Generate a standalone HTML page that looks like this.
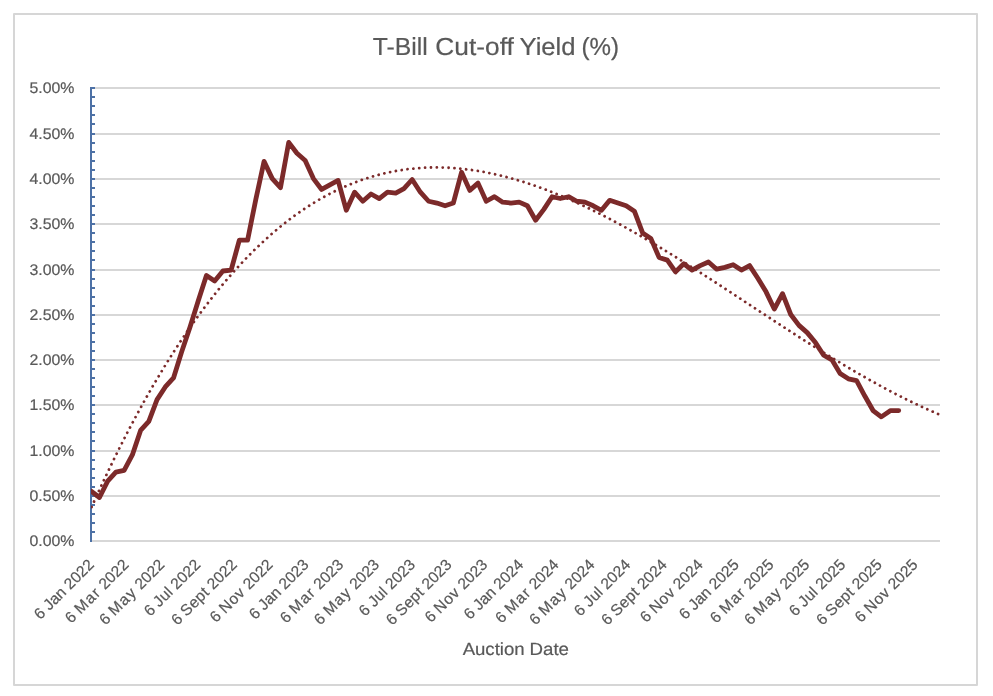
<!DOCTYPE html>
<html lang="en"><head><meta charset="utf-8"><title>T-Bill Cut-off Yield (%)</title>
<style>html,body{margin:0;padding:0;background:#fff;overflow:hidden}svg{display:block;will-change:transform}text{font-family:"Liberation Sans",Arial,sans-serif;fill:#595959;stroke:#595959;stroke-width:0.2px;text-rendering:geometricPrecision}</style></head><body>
<svg width="993" height="696" viewBox="0 0 993 696">
<rect x="0" y="0" width="993" height="696" fill="#ffffff"/>
<rect x="14" y="14" width="963" height="671" fill="#ffffff" stroke="#d6d6d6" stroke-width="2" stroke-linejoin="round"/>
<g stroke="#d7d7d7" stroke-width="2" fill="none">
<line x1="91.00" y1="541.00" x2="940.00" y2="541.00"/>
<line x1="91.00" y1="496.00" x2="940.00" y2="496.00"/>
<line x1="91.00" y1="451.00" x2="940.00" y2="451.00"/>
<line x1="91.00" y1="405.00" x2="940.00" y2="405.00"/>
<line x1="91.00" y1="360.00" x2="940.00" y2="360.00"/>
<line x1="91.00" y1="315.00" x2="940.00" y2="315.00"/>
<line x1="91.00" y1="270.00" x2="940.00" y2="270.00"/>
<line x1="91.00" y1="224.00" x2="940.00" y2="224.00"/>
<line x1="91.00" y1="179.00" x2="940.00" y2="179.00"/>
<line x1="91.00" y1="134.00" x2="940.00" y2="134.00"/>
<line x1="91.00" y1="88.00" x2="940.00" y2="88.00"/>
</g>
<g font-size="15.4" text-anchor="end">
<text x="74.40" y="546.00" textLength="45.00" lengthAdjust="spacingAndGlyphs">0.00%</text>
<text x="74.40" y="501.00" textLength="45.00" lengthAdjust="spacingAndGlyphs">0.50%</text>
<text x="74.40" y="456.00" textLength="45.00" lengthAdjust="spacingAndGlyphs">1.00%</text>
<text x="74.40" y="410.00" textLength="45.00" lengthAdjust="spacingAndGlyphs">1.50%</text>
<text x="74.40" y="365.00" textLength="45.00" lengthAdjust="spacingAndGlyphs">2.00%</text>
<text x="74.40" y="320.00" textLength="45.00" lengthAdjust="spacingAndGlyphs">2.50%</text>
<text x="74.40" y="275.00" textLength="45.00" lengthAdjust="spacingAndGlyphs">3.00%</text>
<text x="74.40" y="229.00" textLength="45.00" lengthAdjust="spacingAndGlyphs">3.50%</text>
<text x="74.40" y="184.00" textLength="45.00" lengthAdjust="spacingAndGlyphs">4.00%</text>
<text x="74.40" y="139.00" textLength="45.00" lengthAdjust="spacingAndGlyphs">4.50%</text>
<text x="74.40" y="93.00" textLength="45.00" lengthAdjust="spacingAndGlyphs">5.00%</text>
</g>
<g stroke="#4d71a6" fill="none">
<line x1="91" y1="87" x2="91" y2="542" stroke-width="2.0"/>
<line x1="91" y1="496" x2="95" y2="496" stroke-width="2"/>
<line x1="91" y1="505" x2="95" y2="505" stroke-width="2"/>
<line x1="91" y1="514" x2="95" y2="514" stroke-width="2"/>
<line x1="91" y1="523" x2="95" y2="523" stroke-width="2"/>
<line x1="91" y1="532" x2="95" y2="532" stroke-width="2"/>
<line x1="91" y1="451" x2="95" y2="451" stroke-width="2"/>
<line x1="91" y1="460" x2="95" y2="460" stroke-width="2"/>
<line x1="91" y1="469" x2="95" y2="469" stroke-width="2"/>
<line x1="91" y1="478" x2="95" y2="478" stroke-width="2"/>
<line x1="91" y1="487" x2="95" y2="487" stroke-width="2"/>
<line x1="91" y1="405" x2="95" y2="405" stroke-width="2"/>
<line x1="91" y1="414" x2="95" y2="414" stroke-width="2"/>
<line x1="91" y1="423" x2="95" y2="423" stroke-width="2"/>
<line x1="91" y1="432" x2="95" y2="432" stroke-width="2"/>
<line x1="91" y1="441" x2="95" y2="441" stroke-width="2"/>
<line x1="91" y1="360" x2="95" y2="360" stroke-width="2"/>
<line x1="91" y1="369" x2="95" y2="369" stroke-width="2"/>
<line x1="91" y1="378" x2="95" y2="378" stroke-width="2"/>
<line x1="91" y1="387" x2="95" y2="387" stroke-width="2"/>
<line x1="91" y1="396" x2="95" y2="396" stroke-width="2"/>
<line x1="91" y1="315" x2="95" y2="315" stroke-width="2"/>
<line x1="91" y1="324" x2="95" y2="324" stroke-width="2"/>
<line x1="91" y1="333" x2="95" y2="333" stroke-width="2"/>
<line x1="91" y1="342" x2="95" y2="342" stroke-width="2"/>
<line x1="91" y1="351" x2="95" y2="351" stroke-width="2"/>
<line x1="91" y1="270" x2="95" y2="270" stroke-width="2"/>
<line x1="91" y1="279" x2="95" y2="279" stroke-width="2"/>
<line x1="91" y1="288" x2="95" y2="288" stroke-width="2"/>
<line x1="91" y1="297" x2="95" y2="297" stroke-width="2"/>
<line x1="91" y1="306" x2="95" y2="306" stroke-width="2"/>
<line x1="91" y1="224" x2="95" y2="224" stroke-width="2"/>
<line x1="91" y1="233" x2="95" y2="233" stroke-width="2"/>
<line x1="91" y1="242" x2="95" y2="242" stroke-width="2"/>
<line x1="91" y1="251" x2="95" y2="251" stroke-width="2"/>
<line x1="91" y1="260" x2="95" y2="260" stroke-width="2"/>
<line x1="91" y1="179" x2="95" y2="179" stroke-width="2"/>
<line x1="91" y1="188" x2="95" y2="188" stroke-width="2"/>
<line x1="91" y1="197" x2="95" y2="197" stroke-width="2"/>
<line x1="91" y1="206" x2="95" y2="206" stroke-width="2"/>
<line x1="91" y1="215" x2="95" y2="215" stroke-width="2"/>
<line x1="91" y1="134" x2="95" y2="134" stroke-width="2"/>
<line x1="91" y1="143" x2="95" y2="143" stroke-width="2"/>
<line x1="91" y1="152" x2="95" y2="152" stroke-width="2"/>
<line x1="91" y1="161" x2="95" y2="161" stroke-width="2"/>
<line x1="91" y1="170" x2="95" y2="170" stroke-width="2"/>
<line x1="91" y1="88" x2="95" y2="88" stroke-width="2"/>
<line x1="91" y1="97" x2="95" y2="97" stroke-width="2"/>
<line x1="91" y1="106" x2="95" y2="106" stroke-width="2"/>
<line x1="91" y1="115" x2="95" y2="115" stroke-width="2"/>
<line x1="91" y1="124" x2="95" y2="124" stroke-width="2"/>
</g>
<clipPath id="plot"><rect x="91" y="60" width="880" height="500"/></clipPath>
<path clip-path="url(#plot)" d="M91.20 507.90 L93.33 503.15 L95.45 498.45 L97.58 493.79 L99.71 489.16 L101.84 484.58 L103.96 480.03 L106.09 475.53 L108.22 471.06 L110.35 466.63 L112.47 462.24 L114.60 457.89 L116.73 453.58 L118.86 449.30 L120.98 445.07 L123.11 440.87 L125.24 436.71 L127.36 432.58 L129.49 428.50 L131.62 424.45 L133.75 420.44 L135.87 416.47 L138.00 412.53 L140.13 408.63 L142.26 404.77 L144.38 400.94 L146.51 397.15 L148.64 393.40 L150.76 389.68 L152.89 386.00 L155.02 382.36 L157.15 378.75 L159.27 375.18 L161.40 371.64 L163.53 368.14 L165.66 364.67 L167.78 361.24 L169.91 357.84 L172.04 354.48 L174.17 351.16 L176.29 347.87 L178.42 344.61 L180.55 341.39 L182.67 338.20 L184.80 335.05 L186.93 331.93 L189.06 328.85 L191.18 325.79 L193.31 322.78 L195.44 319.79 L197.57 316.84 L199.69 313.93 L201.82 311.04 L203.95 308.19 L206.08 305.37 L208.20 302.59 L210.33 299.84 L212.46 297.12 L214.58 294.43 L216.71 291.78 L218.84 289.15 L220.97 286.56 L223.09 284.00 L225.22 281.48 L227.35 278.98 L229.48 276.52 L231.60 274.09 L233.73 271.69 L235.86 269.32 L237.98 266.98 L240.11 264.67 L242.24 262.40 L244.37 260.15 L246.49 257.93 L248.62 255.75 L250.75 253.59 L252.88 251.47 L255.00 249.37 L257.13 247.31 L259.26 245.28 L261.39 243.27 L263.51 241.29 L265.64 239.35 L267.77 237.43 L269.89 235.54 L272.02 233.68 L274.15 231.85 L276.28 230.05 L278.40 228.28 L280.53 226.53 L282.66 224.82 L284.79 223.13 L286.91 221.47 L289.04 219.84 L291.17 218.23 L293.30 216.66 L295.42 215.11 L297.55 213.59 L299.68 212.09 L301.80 210.63 L303.93 209.19 L306.06 207.78 L308.19 206.39 L310.31 205.03 L312.44 203.70 L314.57 202.39 L316.70 201.11 L318.82 199.86 L320.95 198.63 L323.08 197.43 L325.21 196.25 L327.33 195.10 L329.46 193.98 L331.59 192.88 L333.71 191.80 L335.84 190.76 L337.97 189.73 L340.10 188.73 L342.22 187.76 L344.35 186.81 L346.48 185.88 L348.61 184.98 L350.73 184.11 L352.86 183.25 L354.99 182.42 L357.11 181.62 L359.24 180.84 L361.37 180.08 L363.50 179.35 L365.62 178.64 L367.75 177.95 L369.88 177.29 L372.01 176.64 L374.13 176.03 L376.26 175.43 L378.39 174.86 L380.52 174.31 L382.64 173.78 L384.77 173.27 L386.90 172.79 L389.02 172.32 L391.15 171.88 L393.28 171.47 L395.41 171.07 L397.53 170.69 L399.66 170.34 L401.79 170.00 L403.92 169.69 L406.04 169.40 L408.17 169.13 L410.30 168.88 L412.43 168.65 L414.55 168.44 L416.68 168.25 L418.81 168.08 L420.93 167.94 L423.06 167.81 L425.19 167.70 L427.32 167.61 L429.44 167.54 L431.57 167.49 L433.70 167.46 L435.83 167.44 L437.95 167.45 L440.08 167.48 L442.21 167.52 L444.33 167.58 L446.46 167.66 L448.59 167.76 L450.72 167.88 L452.84 168.02 L454.97 168.17 L457.10 168.34 L459.23 168.53 L461.35 168.74 L463.48 168.96 L465.61 169.21 L467.74 169.46 L469.86 169.74 L471.99 170.03 L474.12 170.34 L476.24 170.67 L478.37 171.01 L480.50 171.37 L482.63 171.75 L484.75 172.14 L486.88 172.55 L489.01 172.97 L491.14 173.41 L493.26 173.86 L495.39 174.33 L497.52 174.82 L499.65 175.32 L501.77 175.84 L503.90 176.37 L506.03 176.91 L508.15 177.48 L510.28 178.05 L512.41 178.64 L514.54 179.25 L516.66 179.86 L518.79 180.50 L520.92 181.14 L523.05 181.80 L525.17 182.48 L527.30 183.16 L529.43 183.87 L531.55 184.58 L533.68 185.31 L535.81 186.05 L537.94 186.80 L540.06 187.57 L542.19 188.35 L544.32 189.14 L546.45 189.94 L548.57 190.76 L550.70 191.59 L552.83 192.43 L554.96 193.28 L557.08 194.15 L559.21 195.02 L561.34 195.91 L563.46 196.81 L565.59 197.72 L567.72 198.64 L569.85 199.57 L571.97 200.52 L574.10 201.47 L576.23 202.44 L578.36 203.41 L580.48 204.40 L582.61 205.39 L584.74 206.40 L586.87 207.41 L588.99 208.44 L591.12 209.47 L593.25 210.52 L595.37 211.57 L597.50 212.64 L599.63 213.71 L601.76 214.79 L603.88 215.88 L606.01 216.98 L608.14 218.09 L610.27 219.21 L612.39 220.34 L614.52 221.47 L616.65 222.61 L618.77 223.76 L620.90 224.92 L623.03 226.09 L625.16 227.26 L627.28 228.44 L629.41 229.63 L631.54 230.83 L633.67 232.03 L635.79 233.24 L637.92 234.46 L640.05 235.68 L642.18 236.91 L644.30 238.15 L646.43 239.39 L648.56 240.64 L650.68 241.90 L652.81 243.16 L654.94 244.42 L657.07 245.70 L659.19 246.98 L661.32 248.26 L663.45 249.55 L665.58 250.85 L667.70 252.15 L669.83 253.45 L671.96 254.76 L674.09 256.08 L676.21 257.40 L678.34 258.72 L680.47 260.05 L682.59 261.38 L684.72 262.72 L686.85 264.06 L688.98 265.40 L691.10 266.75 L693.23 268.10 L695.36 269.45 L697.49 270.81 L699.61 272.17 L701.74 273.54 L703.87 274.91 L705.99 276.28 L708.12 277.65 L710.25 279.02 L712.38 280.40 L714.50 281.78 L716.63 283.16 L718.76 284.55 L720.89 285.93 L723.01 287.32 L725.14 288.71 L727.27 290.10 L729.40 291.49 L731.52 292.89 L733.65 294.28 L735.78 295.68 L737.90 297.07 L740.03 298.47 L742.16 299.87 L744.29 301.27 L746.41 302.67 L748.54 304.07 L750.67 305.47 L752.80 306.86 L754.92 308.26 L757.05 309.66 L759.18 311.06 L761.31 312.46 L763.43 313.85 L765.56 315.25 L767.69 316.65 L769.81 318.04 L771.94 319.43 L774.07 320.82 L776.20 322.22 L778.32 323.60 L780.45 324.99 L782.58 326.38 L784.71 327.76 L786.83 329.14 L788.96 330.52 L791.09 331.90 L793.22 333.27 L795.34 334.64 L797.47 336.01 L799.60 337.38 L801.72 338.74 L803.85 340.10 L805.98 341.45 L808.11 342.81 L810.23 344.16 L812.36 345.50 L814.49 346.85 L816.62 348.18 L818.74 349.52 L820.87 350.85 L823.00 352.18 L825.12 353.50 L827.25 354.81 L829.38 356.13 L831.51 357.43 L833.63 358.74 L835.76 360.03 L837.89 361.33 L840.02 362.61 L842.14 363.90 L844.27 365.17 L846.40 366.44 L848.53 367.71 L850.65 368.97 L852.78 370.22 L854.91 371.47 L857.03 372.71 L859.16 373.94 L861.29 375.17 L863.42 376.39 L865.54 377.60 L867.67 378.81 L869.80 380.01 L871.93 381.20 L874.05 382.38 L876.18 383.56 L878.31 384.73 L880.44 385.89 L882.56 387.05 L884.69 388.19 L886.82 389.33 L888.94 390.46 L891.07 391.58 L893.20 392.70 L895.33 393.80 L897.45 394.90 L899.58 395.98 L901.71 397.06 L903.84 398.13 L905.96 399.19 L908.09 400.24 L910.22 401.28 L912.34 402.31 L914.47 403.33 L916.60 404.34 L918.73 405.34 L920.85 406.33 L922.98 407.31 L925.11 408.28 L927.24 409.24 L929.36 410.19 L931.49 411.13 L933.62 412.06 L935.75 412.97 L937.87 413.88 L940.00 414.77" fill="none" stroke="#7c2a2a" stroke-width="2.8" stroke-linecap="round" stroke-dasharray="0.01 5.870" stroke-dashoffset="-1.070"/>
<path clip-path="url(#plot)" d="M91.20 491.17 L99.43 497.51 L107.66 481.20 L115.89 472.14 L124.12 470.33 L132.35 454.93 L140.58 430.47 L148.81 421.41 L157.04 399.66 L165.27 386.98 L173.50 377.92 L181.73 351.65 L189.96 327.18 L198.19 300.91 L206.42 275.54 L214.65 280.98 L222.88 271.01 L231.11 270.11 L239.34 240.21 L247.57 240.21 L255.80 199.44 L264.03 161.39 L272.26 178.60 L280.49 187.66 L288.72 142.36 L296.95 153.23 L305.18 160.48 L313.41 178.60 L321.64 189.47 L329.87 184.94 L338.10 180.41 L346.33 210.31 L354.56 192.19 L362.79 201.25 L371.02 194.00 L379.25 198.53 L387.48 192.19 L395.71 193.10 L403.94 188.57 L412.17 179.51 L420.40 192.19 L428.63 201.25 L436.86 203.06 L445.09 205.78 L453.32 203.06 L461.55 172.26 L469.78 190.38 L478.01 183.13 L486.24 201.25 L494.47 196.72 L502.70 202.16 L510.93 203.06 L519.16 202.16 L527.39 205.78 L535.62 220.28 L543.85 209.40 L552.08 196.72 L560.31 198.53 L568.54 196.72 L576.77 201.25 L585.00 202.16 L593.23 205.78 L601.46 210.31 L609.69 200.34 L617.92 203.06 L626.15 205.78 L634.38 211.22 L642.61 232.96 L650.84 238.40 L659.07 257.42 L667.30 260.14 L675.53 271.92 L683.76 263.76 L691.99 270.11 L700.22 265.58 L708.45 261.95 L716.68 269.20 L724.91 267.39 L733.14 264.67 L741.37 270.11 L749.60 265.58 L757.83 278.26 L766.06 291.85 L774.29 309.06 L782.52 293.66 L790.75 314.50 L798.98 325.37 L807.21 332.62 L815.44 342.59 L823.67 355.27 L831.90 359.80 L840.13 373.39 L848.36 378.83 L856.59 380.64 L864.82 396.04 L873.05 410.54 L881.28 416.88 L890.61 410.54 L898.74 410.54" fill="none" stroke="#7c2a2a" stroke-width="4.8" stroke-linecap="round" stroke-linejoin="round"/>
<g font-size="15.6" text-anchor="end">
<text transform="translate(94.80 565.70) rotate(-45)">6 <tspan letter-spacing="-0.07">Jan</tspan> 2022</text>
<text transform="translate(129.52 565.70) rotate(-45)">6 <tspan letter-spacing="1.13">Mar</tspan> 2022</text>
<text transform="translate(165.42 565.70) rotate(-45)">6 <tspan letter-spacing="1.13">May</tspan> 2022</text>
<text transform="translate(201.32 565.70) rotate(-45)">6 <tspan letter-spacing="0.13">Jul</tspan> 2022</text>
<text transform="translate(237.81 565.70) rotate(-45)">6 <tspan letter-spacing="0.33">Sept</tspan> 2022</text>
<text transform="translate(273.70 565.70) rotate(-45)">6 <tspan letter-spacing="0.57">Nov</tspan> 2022</text>
<text transform="translate(309.60 565.70) rotate(-45)">6 <tspan letter-spacing="-0.07">Jan</tspan> 2023</text>
<text transform="translate(344.32 565.70) rotate(-45)">6 <tspan letter-spacing="1.13">Mar</tspan> 2023</text>
<text transform="translate(380.22 565.70) rotate(-45)">6 <tspan letter-spacing="1.13">May</tspan> 2023</text>
<text transform="translate(416.12 565.70) rotate(-45)">6 <tspan letter-spacing="0.13">Jul</tspan> 2023</text>
<text transform="translate(452.61 565.70) rotate(-45)">6 <tspan letter-spacing="0.33">Sept</tspan> 2023</text>
<text transform="translate(488.51 565.70) rotate(-45)">6 <tspan letter-spacing="0.57">Nov</tspan> 2023</text>
<text transform="translate(524.41 565.70) rotate(-45)">6 <tspan letter-spacing="-0.07">Jan</tspan> 2024</text>
<text transform="translate(559.72 565.70) rotate(-45)">6 <tspan letter-spacing="1.13">Mar</tspan> 2024</text>
<text transform="translate(595.61 565.70) rotate(-45)">6 <tspan letter-spacing="1.13">May</tspan> 2024</text>
<text transform="translate(631.51 565.70) rotate(-45)">6 <tspan letter-spacing="0.13">Jul</tspan> 2024</text>
<text transform="translate(668.00 565.70) rotate(-45)">6 <tspan letter-spacing="0.33">Sept</tspan> 2024</text>
<text transform="translate(703.90 565.70) rotate(-45)">6 <tspan letter-spacing="0.57">Nov</tspan> 2024</text>
<text transform="translate(739.80 565.70) rotate(-45)">6 <tspan letter-spacing="-0.07">Jan</tspan> 2025</text>
<text transform="translate(774.52 565.70) rotate(-45)">6 <tspan letter-spacing="1.13">Mar</tspan> 2025</text>
<text transform="translate(810.42 565.70) rotate(-45)">6 <tspan letter-spacing="1.13">May</tspan> 2025</text>
<text transform="translate(846.31 565.70) rotate(-45)">6 <tspan letter-spacing="0.13">Jul</tspan> 2025</text>
<text transform="translate(882.80 565.70) rotate(-45)">6 <tspan letter-spacing="0.33">Sept</tspan> 2025</text>
<text transform="translate(918.70 565.70) rotate(-45)">6 <tspan letter-spacing="0.57">Nov</tspan> 2025</text>
</g>
<text y="55.00" font-size="24.7"><tspan x="372.80" textLength="54.97" lengthAdjust="spacingAndGlyphs">T-Bill</tspan> <tspan x="435.33" textLength="78.54" lengthAdjust="spacingAndGlyphs">Cut-off</tspan> <tspan x="519.52" textLength="56.07" lengthAdjust="spacingAndGlyphs">Yield</tspan> <tspan x="581.59" textLength="37.53" lengthAdjust="spacingAndGlyphs">(%)</tspan></text>
<text y="655.00" font-size="17.5"><tspan x="462.65" textLength="62.00" lengthAdjust="spacingAndGlyphs">Auction</tspan> <tspan x="529.52" textLength="39.48" lengthAdjust="spacingAndGlyphs">Date</tspan></text>
</svg></body></html>
